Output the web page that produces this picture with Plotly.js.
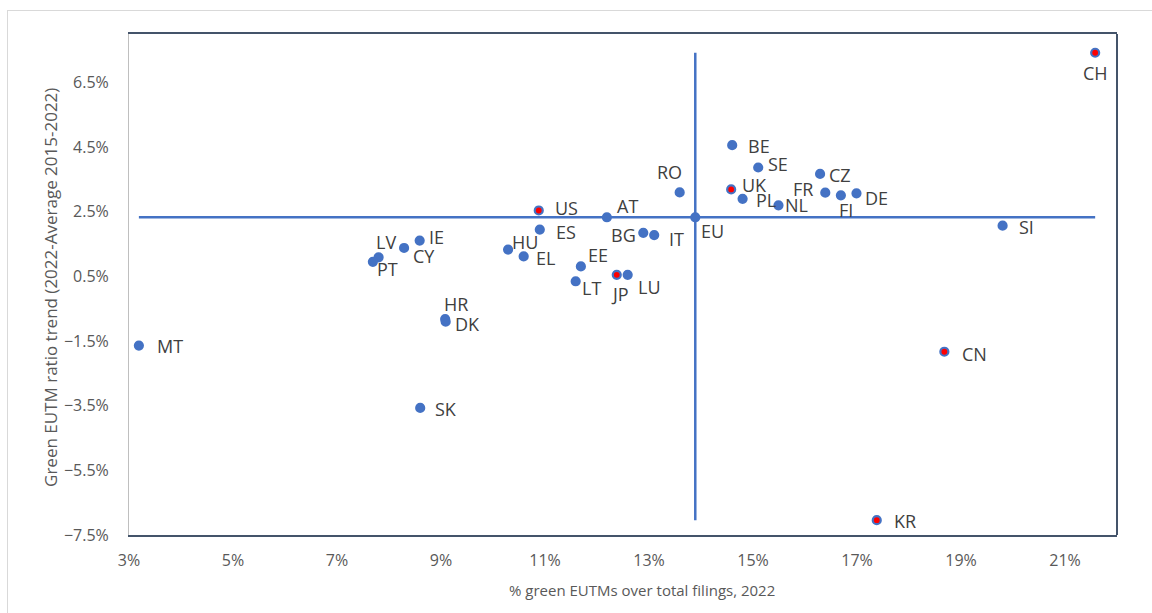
<!DOCTYPE html>
<html>
<head>
<meta charset="utf-8">
<script src="https://cdn.plot.ly/plotly-3.0.1.min.js"></script>
<style>
  html, body { margin: 0; padding: 0; background: #ffffff; overflow: hidden; }
  #frame { position: absolute; left: 7px; top: 10px; width: 1300px; height: 800px; border: 1px solid #D9D9D9; }
  #chart { position: absolute; left: 0; top: 0; width: 1152px; height: 613px; }
</style>
</head>
<body>
<div id="frame"></div>
<div id="chart"></div>
<script>
// ---- data ----
const codes = ['CH','BE','SE','UK','PL','NL','CZ','FR','FI','DE','SI','EU','RO','US','AT','ES','BG','IT','HU','EL','EE','LT','JP','LU','IE','CY','LV','PT','HR','DK','MT','SK','CN','KR'];
const greenShare2022 = [21.58,14.60,15.10,14.58,14.80,15.49,16.29,16.39,16.69,16.99,19.80,13.89,13.59,10.88,12.19,10.90,12.89,13.10,10.29,10.59,11.69,11.59,12.38,12.59,8.59,8.29,7.80,7.69,9.08,9.09,3.19,8.60,18.68,17.38];
const ratioTrend = [7.42,4.56,3.87,3.19,2.90,2.70,3.67,3.09,3.01,3.07,2.07,2.33,3.10,2.54,2.33,1.95,1.85,1.78,1.33,1.12,0.81,0.35,0.55,0.55,1.61,1.38,1.09,0.95,-0.82,-0.90,-1.64,-3.57,-1.83,-7.04];
const nonEU = ['US','UK','JP','CH','CN','KR'];
const xTitle = '% green EUTMs over total filings, 2022';
const yTitle = 'Green EUTM ratio trend (2022-Average 2015-2022)';
const xTickStart = 3, xTickStep = 2;
const yTickStart = -7.5, yTickStep = 2;

// ---- styling: label offsets (px, label centre relative to dot: right, down) ----
const labelOffset = {
  CH:[0,20], BE:[27,1], SE:[20,-3], UK:[23,-4], PL:[23,1], NL:[18,0], CZ:[20,1], FR:[-22,-4],
  FI:[5,15], DE:[20,5], SI:[24,1], EU:[17,14], RO:[-10,-20], US:[28,-2], AT:[21,-11],
  ES:[26,2], BG:[-20,2], IT:[22,4], HU:[17,-8], EL:[22,2], EE:[17,-11], LT:[16,7],
  JP:[3,19], LU:[22,12], IE:[17,-4], CY:[20,8], LV:[7,-15], PT:[15,7], HR:[11,-15],
  DK:[22,2], MT:[31,0], SK:[26,1], CN:[30,2], KR:[28,1]
};
const BLUE = '#4472C4', RED = '#FF0000', DARK = '#44546A';
const FONT = 'Open Sans, Liberation Sans, sans-serif';

const euIdx = codes.indexOf('EU');
const euX = greenShare2022[euIdx], euY = ratioTrend[euIdx];
const minX = Math.min(...greenShare2022), maxX = Math.max(...greenShare2022);
const minY = Math.min(...ratioTrend), maxY = Math.max(...ratioTrend);

const hLine = { x: [minX, maxX], y: [euY, euY], mode: 'lines', type: 'scatter',
  line: { color: BLUE, width: 2.5 }, hoverinfo: 'skip', showlegend: false };
const vLine = { x: [euX, euX], y: [minY, maxY], mode: 'lines', type: 'scatter',
  line: { color: BLUE, width: 2.5 }, hoverinfo: 'skip', showlegend: false };

const points = {
  x: greenShare2022, y: ratioTrend, text: codes,
  mode: 'markers', type: 'scatter', showlegend: false, cliponaxis: false,
  marker: { size: 8, color: codes.map(c => nonEU.includes(c) ? RED : BLUE),
            line: { color: BLUE, width: 2.2 } }
};

const pointLabels = codes.map((c, i) => ({
  x: greenShare2022[i], y: ratioTrend[i], xref: 'x', yref: 'y', text: c, showarrow: false,
  xanchor: 'center', yanchor: 'middle', xshift: labelOffset[c][0], yshift: -labelOffset[c][1],
  font: { family: FONT, size: 18, color: '#404040' }
}));

const axisTitles = [
  { text: xTitle, xref: 'paper', yref: 'paper', x: 0.519, y: -0.11, showarrow: false,
    xanchor: 'center', yanchor: 'middle', font: { family: FONT, size: 15, color: '#595959' } },
  { text: yTitle, xref: 'paper', yref: 'paper', x: -0.08, y: 0.495, showarrow: false, textangle: -90,
    xanchor: 'center', yanchor: 'middle', font: { family: FONT, size: 17, color: '#595959' } }
];

const layout = {
  width: 1152, height: 613,
  margin: { l: 129, r: 35, t: 34, b: 78 },
  paper_bgcolor: 'rgba(0,0,0,0)', plot_bgcolor: '#ffffff',
  font: { family: FONT, color: '#595959', size: 16 },
  xaxis: {
    range: [3, 22], tick0: xTickStart, dtick: xTickStep, ticksuffix: '%', tickformat: 'd',
    showgrid: false, zeroline: false, showline: true, linecolor: DARK, linewidth: 2, mirror: true,
    ticks: '', ticklabelstandoff: 10,
    tickfont: { family: FONT, size: 16, color: '#595959' }
  },
  yaxis: {
    range: [-7.5, 8], tick0: yTickStart, dtick: yTickStep, ticksuffix: '%', tickformat: '.1f',
    showgrid: false, zeroline: false, showline: true, linecolor: '#BFBFBF', linewidth: 1,
    ticks: '', ticklabelstandoff: 16,
    tickfont: { family: FONT, size: 16, color: '#595959' }
  },
  annotations: pointLabels.concat(axisTitles),
  shapes: [
    { type: 'line', xref: 'paper', yref: 'paper', x0: 1, x1: 1, y0: 0, y1: 1, line: { color: DARK, width: 2 } }
  ]
};

Plotly.newPlot('chart', [hLine, vLine, points], layout, { displayModeBar: false, staticPlot: true });
</script>
</body>
</html>
